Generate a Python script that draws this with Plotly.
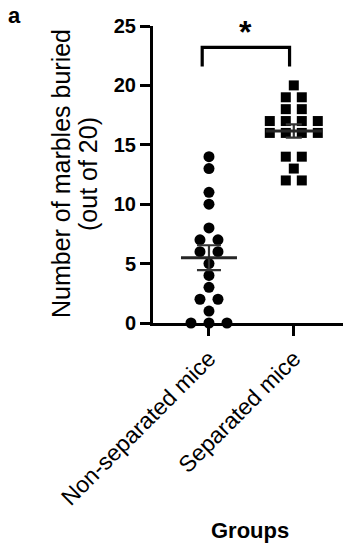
import plotly.graph_objects as go
import numpy as np

# ---- data ----
groups = ["Non-separated mice", "Separated mice"]
non_separated = [14, 13, 11, 10, 8, 7, 7, 6, 6, 5, 4, 3, 2, 2, 1, 0, 0, 0]
separated = [20, 19, 19, 18, 18, 17, 17, 17, 17, 16, 16, 16, 16, 14, 14, 13, 12, 12]
y_ticks = [0, 5, 10, 15, 20, 25]
significance = "*"

# ---- layout constants ----
W, H = 358, 550
L, R, T, B = 153, 15, 26, 227
x_range = [-0.66, 1.58]
px_per_unit = (W - L - R) / (x_range[1] - x_range[0])
FONT = "Liberation Sans, Arial, sans-serif"


def swarm_offsets(vals, spacing_px):
    vals = list(vals)
    offs = [0.0] * len(vals)
    seen = {}
    for v in vals:
        seen[v] = seen.get(v, 0) + 1
    idx = {}
    for i, v in enumerate(vals):
        n = seen[v]
        k = idx.get(v, 0)
        idx[v] = k + 1
        offs[i] = (k - (n - 1) / 2) * spacing_px / px_per_unit
    return offs


fig = go.Figure()
series = [(non_separated, "circle", 11, 18, 12), (separated, "square", 10, 16, 8)]
for gi, (vals, sym, size, spacing, whisker) in enumerate(series):
    offs = swarm_offsets(vals, spacing)
    fig.add_trace(go.Scatter(
        x=[gi + o for o in offs], y=vals, mode="markers",
        marker=dict(symbol=sym, size=size, color="black", line=dict(width=0)),
        cliponaxis=False, showlegend=False, hoverinfo="y"))

for gi, (vals, sym, size, spacing, whisker) in enumerate(series):
    arr = np.array(vals, dtype=float)
    mean = arr.mean()
    sem = arr.std(ddof=1) / np.sqrt(len(arr))
    half = 28 / px_per_unit
    fig.add_trace(go.Scatter(
        x=[gi], y=[mean], mode="markers", marker=dict(size=0.1, color="rgba(0,0,0,0)"),
        error_y=dict(type="data", array=[sem], visible=True, color="#333333",
                     thickness=2.2, width=whisker),
        showlegend=False, hoverinfo="skip", cliponaxis=False))
    fig.add_trace(go.Scatter(
        x=[gi - half, gi + half], y=[mean, mean], mode="lines",
        line=dict(color="#262626", width=3), showlegend=False, hoverinfo="skip"))

# significance bracket
br_x0, br_x1 = -0.08, 0.95
br_ylow, br_yhigh = 21.6, 23.2
fig.add_shape(type="path",
              path=f"M {br_x0},{br_ylow} L {br_x0},{br_yhigh} L {br_x1},{br_yhigh} L {br_x1},{br_ylow}",
              line=dict(color="black", width=3.2), xref="x", yref="y")
fig.add_annotation(x=(br_x0 + br_x1) / 2, y=br_yhigh + 1.3, xref="x", yref="y",
                   text=f"<b>{significance}</b>", showarrow=False, yanchor="middle",
                   font=dict(family=FONT, size=32, color="black"))

# free annotations in pixel positions (converted to paper coords below)
pw, ph = W - L - R, H - T - B
def px_ann(x, y, text, size, angle=0):
    fig.add_annotation(x=(x - L) / pw, y=(H - B - y) / ph, xref="paper", yref="paper",
                       text=text, showarrow=False, textangle=angle,
                       xanchor="center", yanchor="middle",
                       font=dict(family=FONT, size=size, color="black"))

px_ann(61, 174, "Number of marbles buried", 25, -90)
px_ann(88, 174, "(out of 20)", 25, -90)
px_ann(14, 15, "<b>a</b>", 22)
px_ann(250, 530, "<b>Groups</b>", 22)

fig.update_layout(
    width=W, height=H, margin=dict(l=L, r=R, t=T, b=B, autoexpand=False),
    plot_bgcolor="white", paper_bgcolor="white",
    font=dict(family=FONT, color="black"),
    xaxis=dict(range=x_range, tickvals=[0, 1], ticktext=groups, tickangle=-45,
               showline=True, linewidth=3, linecolor="black", ticks="outside",
               ticklen=10, tickwidth=3, tickcolor="black", showgrid=False, zeroline=False,
               tickfont=dict(family=FONT, size=23, color="black")),
    yaxis=dict(range=[0, 25], tickvals=y_ticks, showline=True, linewidth=3, linecolor="black",
               ticks="outside", ticklen=10, tickwidth=3, tickcolor="black", showgrid=False,
               zeroline=False, tickfont=dict(family=FONT, size=20, color="black", weight="bold")),
)

fig.write_html("out.html", config={"displayModeBar": False},
               post_script="document.body.style.margin='0';")
